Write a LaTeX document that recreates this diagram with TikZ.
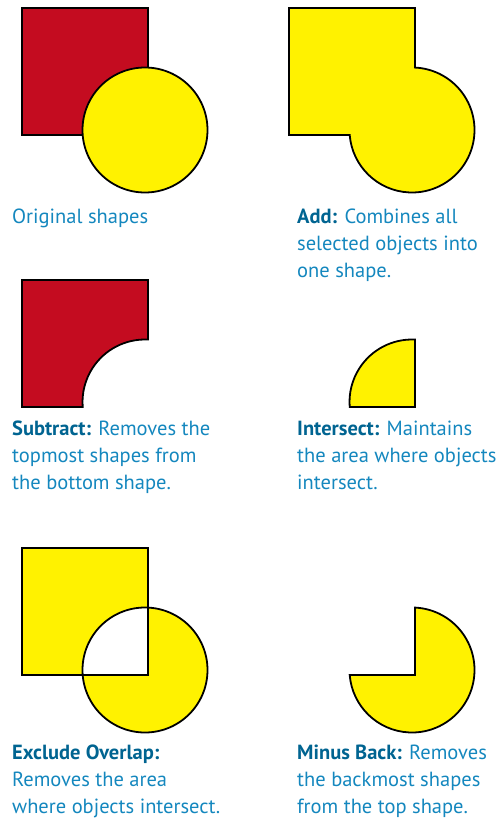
\documentclass[tikz,border=0pt]{standalone}
\usepackage{fontspec}
\setmainfont{PT Sans}
\definecolor{opred}{RGB}{196,12,32}
\definecolor{opyellow}{RGB}{255,242,0}
\definecolor{opblue}{RGB}{20,135,190}
\definecolor{opdark}{RGB}{0,100,145}
\usetikzlibrary{positioning}
\tikzset{
  redshape/.style={fill=opred,draw=black,line width=1.8pt},
  yelshape/.style={fill=opyellow,draw=black,line width=1.8pt},
  caption/.style={anchor=base west,align=left,inner sep=0pt,text=opblue,
    font=\fontsize{20.5}{27}\selectfont},
}
\newcommand{\opkey}[1]{\textbf{\color{opdark}#1}}

\begin{document}
\begin{tikzpicture}[x=1pt,y=1pt]
  \useasboundingbox (0,0) rectangle (502,-819);
  % Original shapes
  \filldraw[redshape] (22,-8) rectangle (148,-135);
  \filldraw[yelshape] (145,-130) circle (62.5);
  \node[caption] (orig) at (12,-223) {Original shapes};
  % Add
  \begin{scope}[shift={(267,0)}]
    \filldraw[yelshape] (22,-8) -- (148,-8) -- (148,-67.57)
      arc[start angle=87.25,end angle=-175.41,radius=62.5] -- (22,-135) -- cycle;
  \end{scope}
  % base anchor sits on the last line
  \node[caption] (add) at (297,-277) {\opkey{Add:} Combines all\\selected objects into\\one shape.};
  % Subtract
  \begin{scope}[shift={(0,-272)}]
    \filldraw[redshape] (22,-8) -- (148,-8) -- (148,-67.57)
      arc[start angle=87.25,end angle=184.59,radius=62.5] -- (22,-135) -- cycle;
  \end{scope}
  \node[caption] (sub) at (12,-489) {\opkey{Subtract:} Removes the\\topmost shapes from\\the bottom shape.};
  % Intersect
  \begin{scope}[shift={(267,-272)}]
    \filldraw[yelshape] (148,-135) -- (148,-67.57)
      arc[start angle=87.25,end angle=184.59,radius=62.5] -- cycle;
  \end{scope}
  \node[caption] (isect) at (297,-489) {\opkey{Intersect:} Maintains\\the area where objects\\intersect.};
  % Exclude Overlap
  \begin{scope}[shift={(0,-540)}]
    \filldraw[yelshape,even odd rule] (22,-8) rectangle (148,-135) (145,-130) circle (62.5);
  \end{scope}
  \node[caption] (excl) at (12,-813) {\opkey{Exclude Overlap:}\\Removes the area\\where objects intersect.};
  % Minus Back
  \begin{scope}[shift={(267,-540)}]
    \filldraw[yelshape] (148,-67.57)
      arc[start angle=87.25,end angle=-175.41,radius=62.5] -- (148,-135) -- cycle;
  \end{scope}
  \node[caption] (minus) at (297,-813) {\opkey{Minus Back:} Removes\\the backmost shapes\\from the top shape.};
\end{tikzpicture}
\end{document}
